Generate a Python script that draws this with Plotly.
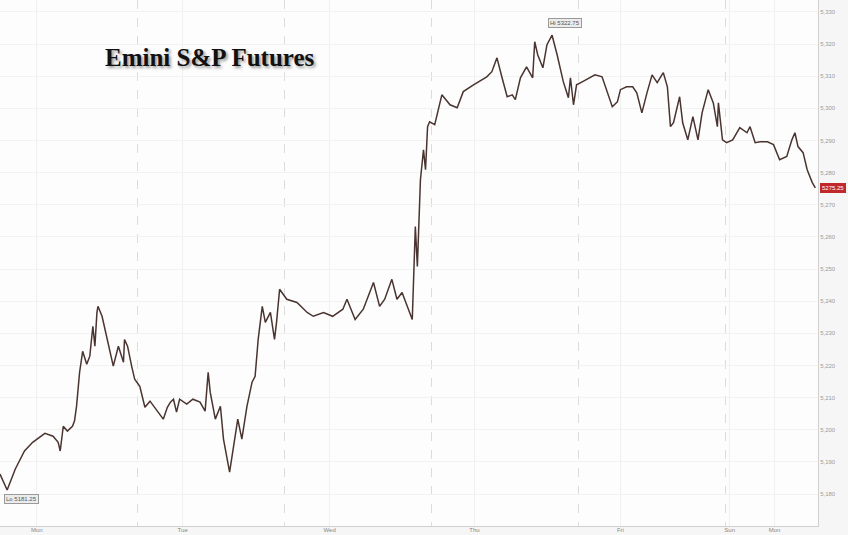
import plotly.graph_objects as go

# Time axis: 10-minute bars since start of the window
bars = [0, 7, 15, 24, 32, 44, 52, 57, 59, 62, 66, 71, 73, 75, 78, 81, 85, 88, 91, 93,
        95, 96, 100, 105, 111, 116, 121, 122, 125, 129, 132, 137, 142, 147, 154, 160, 164, 167, 170, 173,
        176, 183, 189, 196, 201, 204, 206, 211, 216, 219, 225, 228, 233, 237, 242, 247, 250, 253, 257, 260,
        265, 269, 271, 274, 281, 291, 301, 307, 317, 326, 336, 340, 348, 356, 366, 372, 377, 384, 389, 394,
        399, 404, 407, 409, 412, 415, 417, 419, 421, 426, 433, 441, 448, 454, 464, 477, 482, 487, 492, 497,
        502, 505, 510, 516, 522, 524, 527, 532, 536, 541, 546, 552, 557, 559, 562, 565, 571, 578, 583, 590,
        595, 600, 605, 608, 614, 620, 624, 629, 634, 639, 644, 650, 654, 657, 660, 666, 669, 674, 679, 684,
        688, 694, 699, 703, 704, 708, 712, 718, 725, 732, 735, 740, 745, 752, 758, 764, 771, 776, 779, 782,
        787, 791, 796, 799]

prices = [5186.2, 5181.25, 5187.8, 5193.4, 5196.1, 5198.9, 5198.0, 5196.1, 5193.4, 5201.1,
          5199.6, 5201.1, 5202.7, 5207.3, 5217.9, 5224.4, 5220.4, 5222.9, 5232.2, 5226.0,
          5236.5, 5238.4, 5235.3, 5228.1, 5219.8, 5226.0, 5221.0, 5228.1, 5226.0, 5219.8,
          5215.7, 5213.5, 5207.0, 5208.9, 5205.8, 5203.3, 5207.0, 5208.6, 5209.5, 5205.5,
          5209.5, 5208.0, 5209.5, 5208.6, 5205.8, 5217.9, 5211.7, 5203.3, 5207.3, 5197.1,
          5186.8, 5193.0, 5203.3, 5197.1, 5207.3, 5214.8, 5216.6, 5228.1, 5238.4, 5233.4,
          5236.5, 5228.1, 5233.4, 5243.7, 5240.6, 5239.6, 5236.5, 5235.3, 5236.5, 5235.3,
          5237.5, 5240.6, 5234.3, 5237.5, 5245.8, 5238.4, 5240.6, 5246.8, 5240.6, 5242.7,
          5238.4, 5234.3, 5263.2, 5250.8, 5277.8, 5287.1, 5280.9, 5294.3, 5295.8, 5294.9,
          5304.2, 5301.1, 5300.2, 5305.2, 5307.3, 5309.8, 5311.4, 5315.7, 5309.5, 5303.6,
          5304.2, 5302.7, 5309.5, 5312.9, 5309.5, 5320.7, 5316.6, 5312.6, 5319.8, 5322.75,
          5316.6, 5308.3, 5303.3, 5309.5, 5301.1, 5307.3, 5308.3, 5309.5, 5310.4, 5309.8,
          5305.2, 5300.5, 5302.0, 5305.8, 5306.7, 5306.7, 5304.8, 5298.6, 5304.8, 5310.4,
          5308.0, 5311.1, 5306.7, 5294.3, 5295.5, 5303.6, 5295.5, 5290.2, 5297.4, 5290.2,
          5298.6, 5305.8, 5301.7, 5294.3, 5301.7, 5290.2, 5289.3, 5290.2, 5294.0, 5292.4,
          5294.3, 5289.3, 5289.6, 5289.6, 5288.7, 5284.0, 5285.0, 5290.2, 5292.4, 5288.1,
          5286.2, 5280.9, 5276.9, 5275.25]

day_labels = ["Mon", "Tue", "Wed", "Thu", "Fri", "Sun", "Mon"]
day_label_bars = [36, 179, 323, 465, 608, 715, 759]
price_ticks = list(range(5180, 5331, 10))

title_text = "Emini S&P Futures"

hi_val = max(prices)
hi_bar = bars[prices.index(hi_val)]
lo_val = min(prices)
lo_bar = bars[prices.index(lo_val)]
last_val = prices[-1]

fig = go.Figure()
fig.add_trace(go.Scatter(
    x=bars, y=prices, mode="lines",
    line=dict(color="#4a3430", width=1.5),
    hoverinfo="skip", showlegend=False,
))

fig.update_layout(
    width=848, height=535,
    margin=dict(l=0, r=30, t=0, b=9),
    paper_bgcolor="#f6f6f6",
    plot_bgcolor="#fdfdfd",
    font=dict(family="Liberation Sans, Arial, sans-serif", color="#999999"),
    xaxis=dict(
        range=[0, 801.6],
        tickmode="array", tickvals=day_label_bars, ticktext=day_labels,
        tickfont=dict(size=6, color="#888888"),
        ticklabelstandoff=-2,
        showgrid=True, gridcolor="#f0f0f0", gridwidth=1,
        minor=dict(tick0=135, dtick=144, showgrid=True, gridcolor="#dcdcdc",
                   griddash="dash", gridwidth=1),
        showline=True, linecolor="#d0d0d0", linewidth=1,
        ticks="", zeroline=False, fixedrange=True,
    ),
    yaxis=dict(
        side="right",
        range=[5170.06, 5333.7],
        tickmode="array", tickvals=price_ticks,
        ticktext=[f"{v:,}" for v in price_ticks],
        tickfont=dict(size=6, color="#9a9a9a"),
        showgrid=True, gridcolor="#f2f2f2", gridwidth=1,
        showline=True, linecolor="#d0d0d0", linewidth=1,
        ticks="", zeroline=False,
    ),
    annotations=[
        dict(
            text=title_text, xref="paper", yref="paper", x=0.257, y=0.89,
            xanchor="center", yanchor="middle", showarrow=False,
            font=dict(family="Liberation Serif, Times New Roman, serif", size=25,
                      color="#111111", weight="bold", shadow="2px 2px 3px #9a9a9a"),
        ),
        dict(
            text=f"Hi {hi_val:.2f}", x=hi_bar, y=hi_val, xref="x", yref="y",
            showarrow=False, xshift=13, yshift=12,
            font=dict(size=6, color="#555555"),
            bgcolor="#ececec", bordercolor="#9a9a9a", borderwidth=1, borderpad=1,
        ),
        dict(
            text=f"Lo {lo_val:.2f}", x=lo_bar, y=lo_val, xref="x", yref="y",
            showarrow=False, xshift=14, yshift=-9,
            font=dict(size=6, color="#555555"),
            bgcolor="#ececec", bordercolor="#9a9a9a", borderwidth=1, borderpad=1,
        ),
        dict(
            text=f"{last_val:.2f}", x=1.002, y=last_val, xref="paper", yref="y",
            xanchor="left", showarrow=False,
            font=dict(size=6, color="#ffffff"),
            bgcolor="#c0282b", bordercolor="#c0282b", borderwidth=1, borderpad=1,
        ),
    ],
)

fig.write_html(
    "out.html",
    config={"displayModeBar": False},
    post_script="document.body.style.margin='0';document.body.style.overflow='hidden';",
)
